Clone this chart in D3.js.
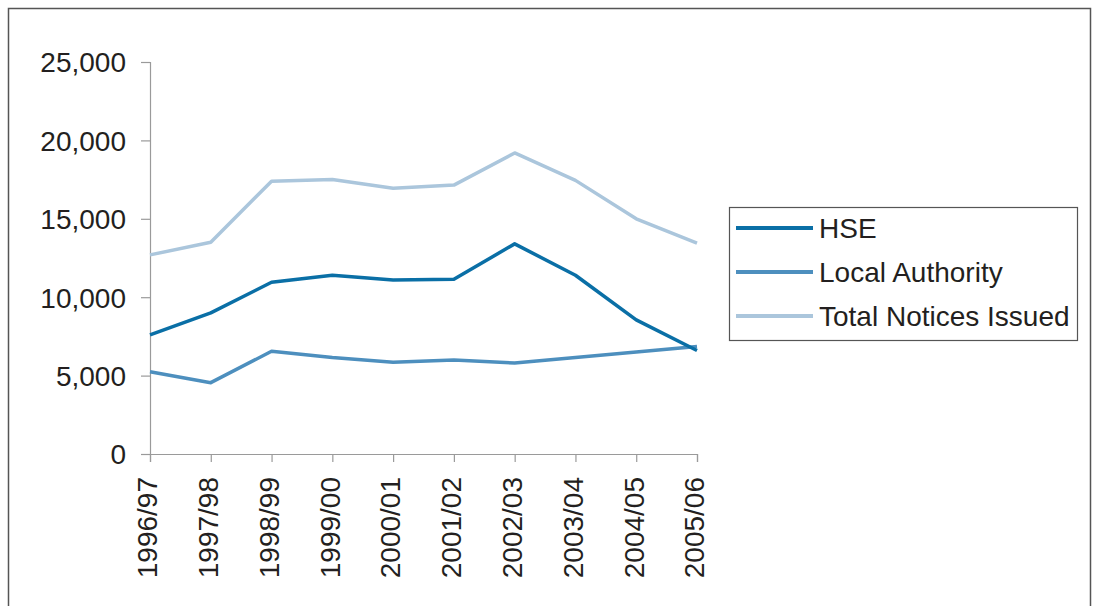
<!DOCTYPE html>
<html>
<head>
<meta charset="utf-8">
<script src="https://cdn.jsdelivr.net/npm/d3@7"></script>
<style>
  body { margin: 0; background: #fff; }
  svg { display: block; font-family: "Liberation Sans", Arial, sans-serif; }
</style>
</head>
<body>
<div id="container"></div>
<script>
const width = 1096;
const height = 606;

const years = ["1996/97", "1997/98", "1998/99", "1999/00", "2000/01",
    "2001/02", "2002/03", "2003/04", "2004/05", "2005/06"];
const hse = [7600, 9000, 10950, 11400, 11100, 11150, 13400, 11400, 8550, 6600];
const localAuthority = [5250, 4550, 6550, 6150, 5850, 6000, 5800, 6150, 6500, 6850];
const totalNotices = [12700, 13500, 17400, 17500, 16950, 17150, 19200, 17450, 15000, 13450];
const seriesNames = ["HSE", "Local Authority", "Total Notices Issued"];
const colors = ["#0a6fa6", "#4d8fbe", "#abc6dc"];
const yTicks = [0, 5000, 10000, 15000, 20000, 25000];

const series = [hse, localAuthority, totalNotices];

const svg = d3.select("#container")
    .append("svg")
    .attr("width", width)
    .attr("height", height);

// outer frame
svg.append("rect")
    .attr("x", 8.5)
    .attr("y", 8.5)
    .attr("width", 1082)
    .attr("height", 620)
    .attr("fill", "none")
    .attr("stroke", "#555")
    .attr("stroke-width", 1.5);

const x = d3.scalePoint()
    .domain(years)
    .range([150, 697]);
const y = d3.scaleLinear()
    .domain([0, 25000])
    .range([454, 62]);

const yAxis = svg.append("g")
    .attr("transform", "translate(150,0)")
    .call(d3.axisLeft(y).tickValues(yTicks).tickSize(9).tickPadding(15)
        .tickFormat(d3.format(",")));
const xAxis = svg.append("g")
    .attr("transform", "translate(0,454)")
    .call(d3.axisBottom(x).tickSize(8).tickPadding(0));

[yAxis, xAxis].forEach((g) => {
    g.select(".domain").attr("stroke", "#9a9a9a").attr("stroke-width", 1.2);
    g.selectAll(".tick line").attr("stroke", "#9a9a9a").attr("stroke-width", 1.2);
    g.selectAll("text")
        .attr("fill", "#231f20")
        .style("font-size", "28px")
        .style("font-family", "'Liberation Sans', Arial, sans-serif");
});
yAxis.selectAll("text").attr("dy", "0.35em");
xAxis.selectAll("text")
    .attr("transform", "rotate(-90)")
    .attr("text-anchor", "end")
    .attr("x", -23)
    .attr("y", -3)
    .attr("dy", "0.35em");

const line = d3.line()
    .x((d, i) => x(years[i]))
    .y((d) => y(d));

// draw in reverse so HSE sits on top
[2, 1, 0].forEach((si) => {
    svg.append("path")
        .datum(series[si])
        .attr("fill", "none")
        .attr("stroke", colors[si])
        .attr("stroke-width", 3.5)
        .attr("stroke-linejoin", "round")
        .attr("d", line);
});

// legend
const legend = svg.append("g");
legend.append("rect")
    .attr("x", 729.5)
    .attr("y", 207.5)
    .attr("width", 348)
    .attr("height", 133)
    .attr("fill", "#fff")
    .attr("stroke", "#555")
    .attr("stroke-width", 1.2);
seriesNames.forEach((name, i) => {
    const ly = 228 + i * 44;
    legend.append("line")
        .attr("x1", 736)
        .attr("x2", 813)
        .attr("y1", ly)
        .attr("y2", ly)
        .attr("stroke", colors[i])
        .attr("stroke-width", 4);
    legend.append("text")
        .attr("x", 819)
        .attr("y", ly)
        .attr("dy", "0.36em")
        .attr("fill", "#231f20")
        .style("font-size", "28px")
        .text(name);
});
</script>
</body>
</html>
